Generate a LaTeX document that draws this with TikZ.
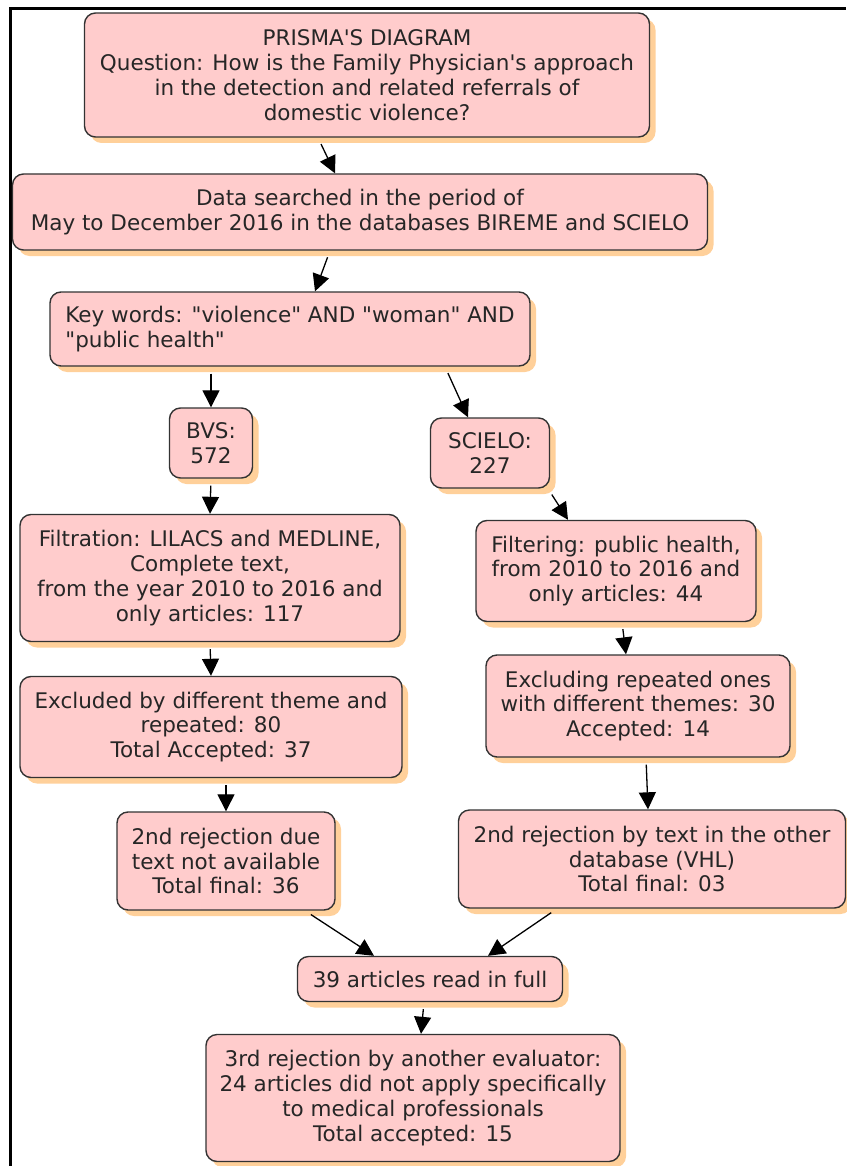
\documentclass[tikz,border=0pt]{standalone}
\usepackage{fontspec}
\setmainfont{DejaVu Sans}[Ligatures=TeXOff]
\usetikzlibrary{arrows.meta,shadows}

\definecolor{boxpink}{HTML}{FFCCCC}
\definecolor{boxshadow}{HTML}{FFD09A}
\definecolor{boxline}{HTML}{333333}

\tikzset{
    flowbox/.style={draw=boxline, line width=1.4pt, fill=boxpink, rounded corners=11pt,
        align=center, text=black!85, inner sep=0pt,
        font=\fontsize{21.5pt}{24.8pt}\selectfont,
        drop shadow={shadow xshift=6pt, shadow yshift=-6pt, fill=boxshadow, opacity=1}},
    flowarrow/.style={line width=1.3pt, -{Triangle[length=17pt,width=17pt]}, shorten <=7pt}
}

\begin{document}
\begin{tikzpicture}[x=1pt, y=-1pt]
    \useasboundingbox (0,0) rectangle (846,1166);
    \fill[white] (0,0) rectangle (846,1166);
    \draw[line width=3pt] (10,1166) -- (10,9) -- (846,9);

    % left column and top
    \node[flowbox, minimum width=565pt, minimum height=124pt] at (367,75) (prisma)
        {PRISMA'S DIAGRAM\\Question: How is the Family Physician's approach\\in the detection and related referrals of\\domestic violence?};
    \node[flowbox, minimum width=695pt, minimum height=76pt] at (360,212) (data)
        {Data searched in the period of\\May to December 2016 in the databases BIREME and SCIELO};
    \node[flowbox, align=left, minimum width=480pt, minimum height=74pt] at (290,329) (keys)
        {Key words: "violence" AND "woman" AND\\"public health"};
    \node[flowbox, minimum width=83pt, minimum height=70pt] at (211,443) (bvs) {BVS:\\572};
    \node[flowbox, minimum width=380pt, minimum height=127pt] at (210,578) (filtration)
        {Filtration: LILACS and MEDLINE,\\Complete text,\\from the year 2010 to 2016 and\\only articles: 117};
    \node[flowbox, minimum width=382pt, minimum height=101pt] at (211,727) (excluded)
        {Excluded by different theme and\\repeated: 80\\Total Accepted: 37};
    \node[flowbox, minimum width=218pt, minimum height=98pt] at (226,861) (rejdue)
        {2nd rejection due\\text not available\\Total final: 36};

    % right column
    \node[flowbox, minimum width=119pt, minimum height=70pt] at (490,453) (scielo) {SCIELO:\\227};
    \node[flowbox, minimum width=280pt, minimum height=101pt] at (616,571) (filtering)
        {Filtering: public health,\\from 2010 to 2016 and\\only articles: 44};
    \node[flowbox, minimum width=304pt, minimum height=102pt] at (638,706) (excluding)
        {Excluding repeated ones\\with different themes: 30\\Accepted: 14};
    \node[flowbox, minimum width=387pt, minimum height=98pt] at (652,859) (rejtext)
        {2nd rejection by text in the other\\database (VHL)\\Total final: 03};

    % bottom
    \node[flowbox, minimum width=265pt, minimum height=45pt] at (430,979) (fullread)
        {39 articles read in full};
    \node[flowbox, minimum width=414pt, minimum height=127pt] at (413,1098) (third)
        {3rd rejection by another evaluator:\\24 articles did not apply specifically\\to medical professionals\\Total accepted: 15};

    % arrows
    \draw[flowarrow] ([xshift=-49pt]prisma.south) -- ([xshift=-25pt]data.north);
    \draw[flowarrow] ([xshift=-30pt]data.south) -- ([xshift=25pt]keys.north);
    \draw[flowarrow] ([xshift=-79pt]keys.south) -- (bvs.north);
    \draw[flowarrow] ([xshift=155pt]keys.south) -- ([xshift=-22pt]scielo.north);
    \draw[flowarrow] (bvs.south) -- (filtration.north);
    \draw[flowarrow] ([xshift=58pt]scielo.south) -- ([xshift=-48pt]filtering.north);
    \draw[flowarrow] (filtration.south) -- (excluded.north);
    \draw[flowarrow] ([xshift=6pt]filtering.south) -- ([xshift=-12pt]excluding.north);
    \draw[flowarrow] ([xshift=15pt]excluded.south) -- (rejdue.north);
    \draw[flowarrow] ([xshift=8pt]excluding.south) -- ([xshift=-4pt]rejtext.north);
    \draw[flowarrow] ([xshift=79pt]rejdue.south) -- ([xshift=-56pt]fullread.north);
    \draw[flowarrow] ([xshift=-95pt]rejtext.south) -- ([xshift=58pt]fullread.north);
    \draw[flowarrow] ([xshift=-6pt]fullread.south) -- ([xshift=8pt]third.north);
\end{tikzpicture}
\end{document}
